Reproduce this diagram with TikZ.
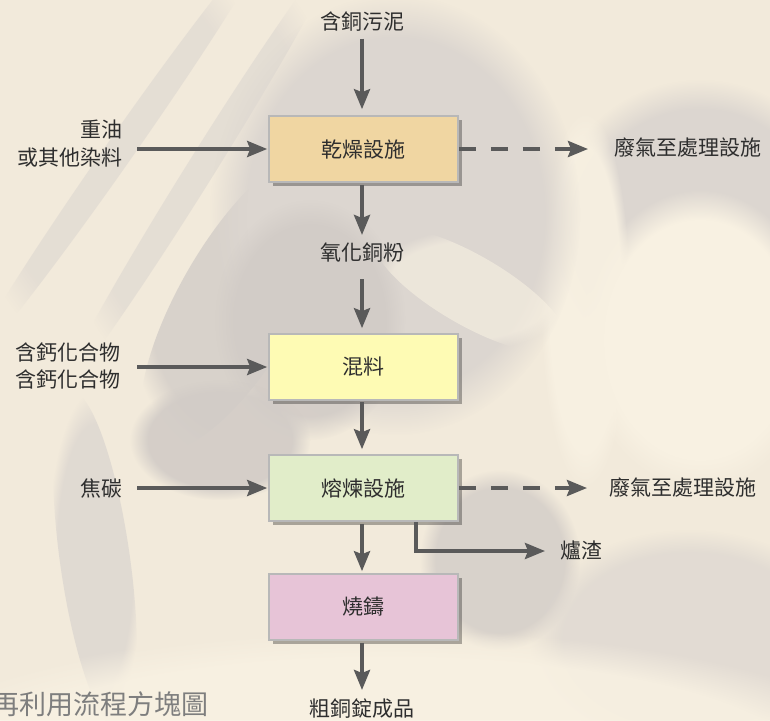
\documentclass[tikz,border=0pt]{standalone}
\usepackage{fontspec}
\newfontfamily\cjk{Noto Sans CJK TC}
\usetikzlibrary{arrows.meta,shadows,fadings}
\definecolor{bgbase}{HTML}{F2EADB}
\definecolor{cream}{HTML}{F8F1E2}
\definecolor{grayA}{HTML}{DCD6D0}
\definecolor{grayB}{HTML}{D2CCC7}
\definecolor{grayC}{HTML}{C4BEB9}
\definecolor{arrowc}{HTML}{5A5A5A}
\definecolor{txt}{HTML}{2E2E2E}
\definecolor{fillA}{HTML}{F0D6A2}
\definecolor{fillB}{HTML}{FEFBB4}
\definecolor{fillC}{HTML}{E1EDC9}
\definecolor{fillD}{HTML}{E7C4D7}
\definecolor{capc}{HTML}{7E7E7E}
\tikzset{
  procbox/.style={draw=black!28, line width=1.6pt, minimum width=189pt, minimum height=66pt,
    inner sep=0pt, font=\cjk\fontsize{21}{24}\selectfont, text=txt,
    drop shadow={shadow xshift=4pt, shadow yshift=-4pt, opacity=0.3, fill=black}},
  lbl/.style={inner sep=0pt, font=\cjk\fontsize{21}{28}\selectfont, text=txt},
  flow/.style={draw=arrowc, line width=3.8pt, -{Stealth[length=20pt,width=16pt,inset=3pt]}},
  dflow/.style={flow, dash pattern=on 17pt off 15pt},
  soft/.style={path fading=circle with fuzzy edge 20 percent}
}
\begin{document}
\begin{tikzpicture}[x=1pt,y=-1pt]
\clip (0,0) rectangle (770,720);
% background
\fill[bgbase] (0,0) rectangle (770,720);
\fill[grayA, soft, opacity=0.6, rotate around={-35:(120,150)}] (120,150) ellipse [x radius=14, y radius=260];
\fill[grayA, soft, opacity=0.6, rotate around={-32:(200,170)}] (200,170) ellipse [x radius=14, y radius=260];
\fill[grayB, soft, opacity=0.8, rotate around={-30:(240,300)}] (240,300) ellipse [x radius=60, y radius=170];
\fill[grayA, soft] (700,230) ellipse [x radius=150, y radius=150];
\fill[cream, soft] (700,340) ellipse [x radius=120, y radius=150];
\fill[cream, soft, opacity=0.9] (585,300) ellipse [x radius=45, y radius=190];
\fill[grayA, soft] (395,215) ellipse [x radius=185, y radius=220];
\fill[grayB, soft, opacity=0.9] (310,320) ellipse [x radius=95, y radius=120];
\fill[cream, soft, opacity=0.6, rotate around={-30:(470,290)}] (470,290) ellipse [x radius=110, y radius=35];
\fill[grayB, soft, opacity=0.9] (220,440) ellipse [x radius=90, y radius=60];
\fill[grayA, soft, opacity=0.8, rotate around={8:(95,560)}] (95,560) ellipse [x radius=35, y radius=170];
\fill[grayB, soft, opacity=0.8] (500,560) ellipse [x radius=80, y radius=90];
\fill[grayA, soft, opacity=0.7] (690,640) ellipse [x radius=160, y radius=110];
\fill[cream, soft, opacity=0.9] (385,770) ellipse [x radius=520, y radius=140];
% nodes
\node[lbl] (src) at (362,21.5) {含銅污泥};
\node[procbox, fill=fillA] (dry) at (363.5,149) {乾燥設施};
\node[lbl] (cuo) at (362,253) {氧化銅粉};
\node[procbox, fill=fillB] (mix) at (363.5,367) {混料};
\node[procbox, fill=fillC] (smelt) at (363.5,488) {熔煉設施};
\node[procbox, fill=fillD] (cast) at (363.5,607) {燒鑄};
\node[lbl] (prod) at (362,709) {粗銅錠成品};
\node[lbl, align=right, anchor=east] (oil) at (123,143.5) {重油\\或其他染料};
\node[lbl, align=right, anchor=east, font=\cjk\fontsize{21}{27}\selectfont] (ca) at (121,365.5) {含鈣化合物\\含鈣化合物};
\node[lbl, anchor=east] (coke) at (123,488.5) {焦碳};
\node[lbl, anchor=west] (gas1) at (614,148) {廢氣至處理設施};
\node[lbl, anchor=west] (gas2) at (609,488) {廢氣至處理設施};
\node[lbl, anchor=west] (slag) at (560,551) {爐渣};
\node[inner sep=0pt, anchor=base east, text=capc, font=\cjk\fontsize{27}{30}\selectfont] (cap) at (209,714) {再利用流程方塊圖};
% connectors
\draw[flow, shorten <=7pt, shorten >=6pt] (src.south) -- (src.south |- dry.north);
\draw[flow, shorten <=2pt, shorten >=8pt] (cuo.north |- dry.south) -- (cuo.north);
\draw[flow, shorten <=16pt, shorten >=5pt] (cuo.south) -- (cuo.south |- mix.north);
\draw[flow, shorten <=1pt, shorten >=5pt] (cuo.south |- mix.south) -- (cuo.south |- smelt.north);
\draw[flow, shorten <=2pt, shorten >=2pt] (cuo.south |- smelt.south) -- (cuo.south |- cast.north);
\draw[flow, shorten <=2pt, shorten >=9pt] (cuo.south |- cast.south) -- (prod.north);
\draw[flow, shorten <=14pt, shorten >=1pt] (oil.east |- dry.west) -- (dry.west);
\draw[flow, shorten <=16pt, shorten >=1pt] (ca.east |- mix.west) -- (mix.west);
\draw[flow, shorten <=14pt, shorten >=1pt] (coke.east |- smelt.west) -- (smelt.west);
\draw[dflow, shorten >=26pt] (dry.east) -- (gas1.west |- dry.east);
\draw[dflow, shorten >=22pt] (smelt.east) -- (gas2.west |- smelt.east);
\draw[flow, shorten >=15pt] ([xshift=52.5pt]smelt.south) |- (slag.west);
\end{tikzpicture}
\end{document}
